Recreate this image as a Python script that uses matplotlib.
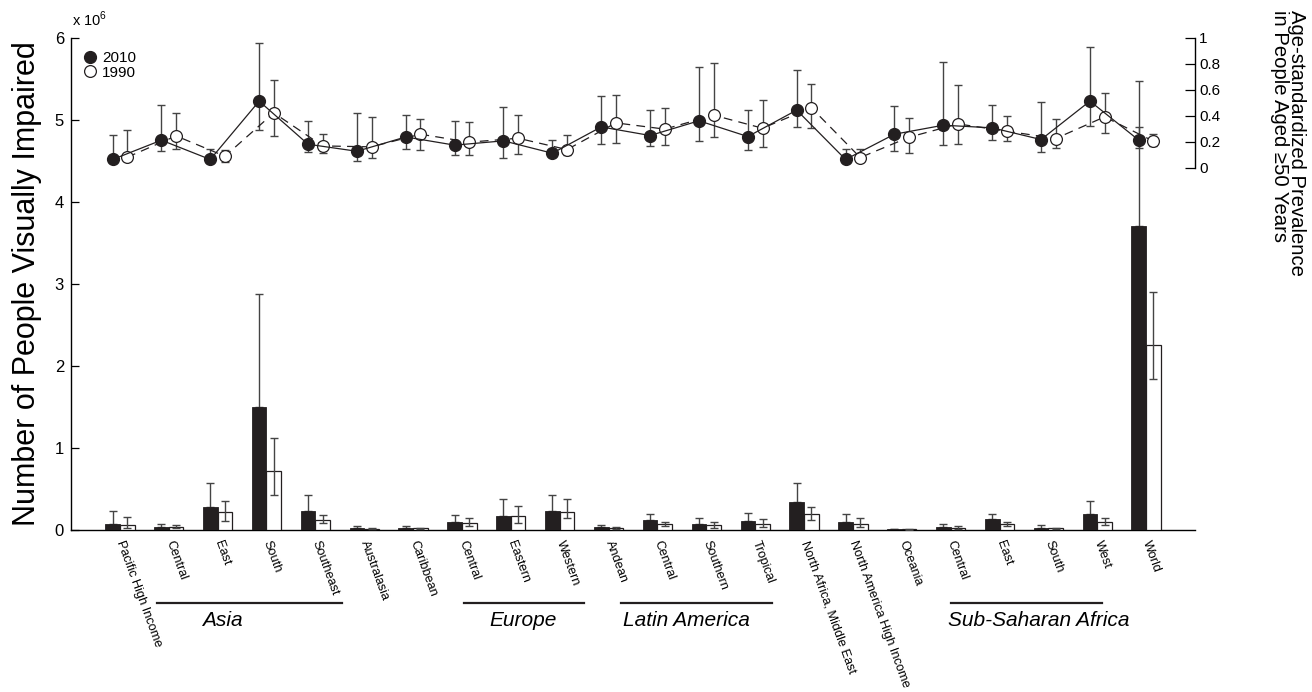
import numpy as np
import matplotlib
matplotlib.use("Agg")
import matplotlib.pyplot as plt
from matplotlib.lines import Line2D

plt.rcParams['font.family'] = ['Liberation Sans', 'DejaVu Sans']
plt.rcParams['mathtext.fontset'] = 'custom'
plt.rcParams['mathtext.rm'] = 'Liberation Sans'

regions = ["Pacific High Income", "Central", "East", "South", "Southeast",
           "Australasia", "Caribbean", "Central", "Eastern", "Western",
           "Andean", "Central", "Southern", "Tropical",
           "North Africa, Middle East", "North America High Income", "Oceania",
           "Central", "East", "South", "West", "World"]

# number of people visually impaired, millions
num_2010 = [0.069, 0.040, 0.284, 1.495, 0.231, 0.020, 0.028, 0.093, 0.170, 0.231, 0.040,
            0.117, 0.069, 0.113, 0.336, 0.093, 0.008, 0.036, 0.134, 0.028, 0.198, 3.71]
num_2010_hi = [0.227, 0.073, 0.567, 2.88, 0.425, 0.045, 0.045, 0.178, 0.377, 0.425, 0.060,
               0.198, 0.146, 0.207, 0.567, 0.198, 0.012, 0.077, 0.200, 0.057, 0.348, 4.91]
num_1990 = [0.057, 0.040, 0.219, 0.717, 0.126, 0.016, 0.024, 0.085, 0.170, 0.215, 0.024,
            0.073, 0.057, 0.073, 0.194, 0.073, 0.008, 0.024, 0.069, 0.020, 0.097, 2.256]
num_1990_lo = [0.024, 0.024, 0.109, 0.421, 0.081, 0.010, 0.018, 0.053, 0.085, 0.146, 0.008,
               0.045, 0.028, 0.040, 0.126, 0.040, 0.005, 0.008, 0.049, 0.010, 0.061, 1.835]
num_1990_hi = [0.158, 0.057, 0.348, 1.118, 0.186, 0.025, 0.030, 0.142, 0.292, 0.377, 0.040,
               0.101, 0.093, 0.130, 0.275, 0.142, 0.011, 0.045, 0.097, 0.030, 0.142, 2.896]

# age-standardized prevalence, people aged >=50
prev_2010 = [0.065, 0.213, 0.065, 0.513, 0.182, 0.128, 0.238, 0.175, 0.208, 0.113, 0.315,
             0.249, 0.362, 0.241, 0.444, 0.065, 0.259, 0.328, 0.308, 0.218, 0.513, 0.213]
prev_2010_lo = [0.045, 0.128, 0.045, 0.290, 0.121, 0.052, 0.144, 0.103, 0.080, 0.095, 0.182,
                0.169, 0.208, 0.134, 0.311, 0.045, 0.131, 0.175, 0.213, 0.121, 0.323, 0.150]
prev_2010_hi = [0.250, 0.480, 0.144, 0.960, 0.359, 0.421, 0.408, 0.359, 0.465, 0.218, 0.554,
                0.444, 0.777, 0.446, 0.752, 0.146, 0.475, 0.811, 0.485, 0.503, 0.926, 0.669]
prev_1990 = [0.082, 0.246, 0.090, 0.423, 0.169, 0.162, 0.259, 0.198, 0.228, 0.141, 0.346,
             0.298, 0.405, 0.305, 0.462, 0.080, 0.236, 0.338, 0.282, 0.226, 0.392, 0.205]
prev_1990_lo = [0.065, 0.149, 0.042, 0.249, 0.118, 0.080, 0.138, 0.103, 0.108, 0.098, 0.188,
                0.175, 0.236, 0.157, 0.303, 0.065, 0.115, 0.180, 0.205, 0.152, 0.272, 0.167]
prev_1990_hi = [0.295, 0.418, 0.138, 0.675, 0.262, 0.392, 0.372, 0.354, 0.410, 0.251, 0.559,
                0.457, 0.808, 0.518, 0.646, 0.144, 0.382, 0.634, 0.400, 0.372, 0.577, 0.264]

groups = ["Asia", "Europe", "Latin America", "Sub-Saharan Africa"]
group_spans = [(0.75, 4.55), (7.05, 9.5), (10.25, 13.35), (17.0, 20.1)]
group_text_x = [2.1, 8.25, 11.6, 18.8]

dark = '#231f20'
errc = '#444444'

fig = plt.figure(figsize=(13.12, 6.92), dpi=100)
ax = fig.add_axes([71 / 1312, 162 / 692, 1124 / 1312, 492.3 / 692])

x = np.arange(len(regions))
w = 0.3
n10 = np.array(num_2010)
n90 = np.array(num_1990)

ax.bar(x - w / 2, n10, w, color=dark, edgecolor=dark, linewidth=0.6, zorder=3)
ax.errorbar(x - w / 2, n10, yerr=[np.zeros_like(n10), np.array(num_2010_hi) - n10],
            fmt='none', ecolor=errc, elinewidth=1.0, capsize=3, capthick=1.0, zorder=2)
ax.bar(x + w / 2, n90, w, color='white', edgecolor=dark, linewidth=0.9, zorder=3)
ax.errorbar(x + w / 2, n90, yerr=[n90 - np.array(num_1990_lo), np.array(num_1990_hi) - n90],
            fmt='none', ecolor=errc, elinewidth=1.0, capsize=3, capthick=1.0, zorder=4)

ax.set_xlim(-1, 22)
ax.set_ylim(0, 6)
ax.set_yticks(range(7))
ax.set_yticklabels([str(v) for v in range(7)], fontsize=12)
ax.tick_params(axis='y', direction='in', length=6, width=0.9, pad=5)
ax.set_xticks(x)
ax.set_xticklabels(regions, rotation=-70, ha='left', va='center',
                   rotation_mode='anchor', fontsize=9.2)
ax.tick_params(axis='x', length=0, pad=8)
for s in ['top', 'right']:
    ax.spines[s].set_visible(False)
ax.spines['left'].set_linewidth(1.0)
ax.spines['bottom'].set_linewidth(1.0)
ax.set_ylabel("Number of People Visually Impaired", fontsize=22, labelpad=9)
fig.text(72 / 1312, 1 - 19 / 692, r"x 10$^{6}$", fontsize=10.5, va='center', ha='left')

# region group labels under the ticks
trans = ax.get_xaxis_transform()
for name, (a, b), tx in zip(groups, group_spans, group_text_x):
    ax.plot([a, b], [-0.1477, -0.1477], color=dark, linewidth=1.6, transform=trans,
            clip_on=False)
    ax.text(tx, -0.184, name, transform=trans, ha='center', va='center',
            fontsize=15, style='italic')

# prevalence on the right axis
ax2 = ax.twinx()
ax2.set_ylim(-2.78, 1.0)
p10 = np.array(prev_2010)
p90 = np.array(prev_1990)
ax2.errorbar(x - w / 2, p10, yerr=[p10 - np.array(prev_2010_lo), np.array(prev_2010_hi) - p10],
             fmt='none', ecolor=errc, elinewidth=1.0, capsize=3, capthick=1.0, zorder=2)
ax2.errorbar(x + w / 2, p90, yerr=[p90 - np.array(prev_1990_lo), np.array(prev_1990_hi) - p90],
             fmt='none', ecolor=errc, elinewidth=1.0, capsize=3, capthick=1.0, zorder=2)
ax2.plot(x + w / 2, p90, color=dark, linestyle=(0, (7, 5)), linewidth=0.9,
         marker='o', markersize=8.5, markerfacecolor='white', markeredgecolor=dark,
         markeredgewidth=0.9, zorder=3)
ax2.plot(x - w / 2, p10, color=dark, linestyle='-', linewidth=0.9,
         marker='o', markersize=8.5, markerfacecolor=dark, markeredgecolor=dark, zorder=4)

ax2.set_yticks([0, 0.2, 0.4, 0.6, 0.8, 1])
ax2.set_yticklabels(['0', '0.2', '0.4', '0.6', '0.8', '1'], fontsize=11)
ax2.tick_params(axis='y', direction='in', length=7, width=0.9, pad=3)
for s in ['top', 'left', 'bottom']:
    ax2.spines[s].set_visible(False)
ax2.spines['right'].set_bounds(0, 1)
ax2.spines['right'].set_linewidth(1.0)

fig.text(1288 / 1312, 1 - 10 / 692,
         "Age-standardized Prevalence\nin People Aged \u226550 Years",
         rotation=270, ha='center', va='top', multialignment='left', fontsize=14.6,
         linespacing=0.85)

handles = [Line2D([], [], linestyle='none', marker='o', markersize=8.5,
                  markerfacecolor=dark, markeredgecolor=dark),
           Line2D([], [], linestyle='none', marker='o', markersize=8.5,
                  markerfacecolor='white', markeredgecolor=dark, markeredgewidth=0.9)]
ax2.legend(handles, ['2010', '1990'], loc='upper left', bbox_to_anchor=(0.002, 0.995),
           frameon=False, fontsize=11, handlelength=0.8, handletextpad=0.4,
           labelspacing=0.05, borderaxespad=0.3)

fig.savefig("out.png", dpi=100)
